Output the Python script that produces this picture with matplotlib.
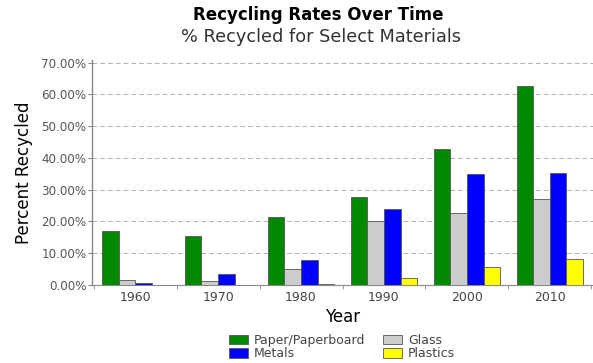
import numpy as np
import matplotlib
matplotlib.use("Agg")
import matplotlib.pyplot as plt
from matplotlib.ticker import FuncFormatter, FixedLocator

years = ["1960", "1970", "1980", "1990", "2000", "2010"]
materials = ["Paper/Paperboard", "Glass", "Metals", "Plastics"]
paper = [16.9, 15.3, 21.3, 27.8, 42.8, 62.5]
glass = [1.5, 1.3, 5.1, 20.0, 22.6, 27.1]
metals = [0.6, 3.5, 8.0, 24.0, 35.0, 35.4]
plastics = [0.0, 0.0, 0.3, 2.2, 5.8, 8.2]
colors = ["#008800", "#cccccc", "#0000ff", "#ffff00"]

series = [paper, glass, metals, plastics]

fig = plt.figure(figsize=(5.93, 3.63), dpi=100)
ax = fig.add_axes([92 / 593, 1 - 285 / 363, (593 - 92) / 593, (285 - 60) / 363])

x = np.arange(len(years))
w = 0.2
bars = []
for k, (vals, col) in enumerate(zip(series, colors)):
    b = ax.bar(x + (k - 1.5) * w, vals, w, color=col, edgecolor="#555555",
               linewidth=0.6, zorder=3, label=materials[k])
    bars.append(b)

ax.set_xlim(-0.52, 5.52)
ax.set_ylim(0, 70.8)
ax.set_yticks(np.arange(0, 71, 10))
ax.yaxis.set_major_formatter(FuncFormatter(lambda v, p: f"{v:.2f}%"))
ax.set_xticks(x)
ax.set_xticklabels(years)
ax.xaxis.set_minor_locator(FixedLocator(np.arange(-0.5, 6, 1)))
ax.tick_params(axis="x", which="major", length=0, labelsize=9, pad=4, colors="#444444")
ax.tick_params(axis="x", which="minor", length=3, color="#888888")
ax.tick_params(axis="y", length=3, labelsize=8.6, pad=1, colors="#555555", color="#888888")
ax.grid(axis="y", linestyle=(0, (5, 3)), color="#b0b0b0", linewidth=0.7, zorder=0)

for s in ["top", "right"]:
    ax.spines[s].set_visible(False)
ax.spines["left"].set_color("#888888")
ax.spines["bottom"].set_color("#888888")
ax.spines["left"].set_linewidth(1.0)

ax.set_ylabel("Percent Recycled", fontsize=12, labelpad=6)
ax.set_xlabel("Year", fontsize=12, labelpad=3)

fig.text(0.537, 0.958, "Recycling Rates Over Time", ha="center", va="center",
         fontsize=12, fontweight="bold")
fig.text(0.542, 0.897, "% Recycled for Select Materials", ha="center", va="center",
         fontsize=12.8, color="#333333")

order = [0, 2, 1, 3]
fig.legend([bars[i] for i in order], [materials[i] for i in order], ncol=2,
           loc="center", bbox_to_anchor=(0.577, 0.044), frameon=False,
           fontsize=9, handlelength=1.5, handleheight=0.8, columnspacing=1.4,
           labelspacing=0.05, handletextpad=0.5, labelcolor="#444444")

fig.savefig("out.png", dpi=100)
